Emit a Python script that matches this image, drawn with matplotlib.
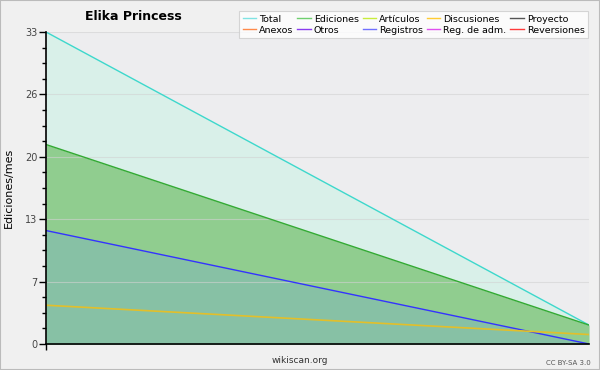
import numpy as np
import matplotlib.pyplot as plt
from matplotlib.lines import Line2D
from matplotlib.patches import Rectangle

# two months of activity
months = [0, 1]
total = [33, 2]
ediciones = [21.1, 2]
registros = [12, 0]
discusiones = [4.1, 1]

legend_names = ["Total", "Anexos", "Ediciones", "Otros", "Artículos", "Registros",
                "Discusiones", "Reg. de adm.", "Proyecto", "Reversiones"]
legend_colors = ["#7fe3e3", "#ff8a4a", "#6fcf6f", "#8a3cf0", "#c8ec3c", "#7070ff",
                 "#ffcc33", "#e050f0", "#555555", "#ff3a3a"]

yticks = [0, 6.6, 13.2, 19.8, 26.4, 33]
ytick_labels = ["0", "7", "13", "20", "26", "33"]

fig = plt.figure(figsize=(6, 3.7), dpi=100, facecolor="#f0f0f0")
ax = fig.add_axes([0.0767, 0.0703, 0.905, 0.8432])
ax.set_facecolor("#ededef")

ax.fill_between(months, 0, total, color="#d9f0e9", lw=0)
ax.fill_between(months, 0, ediciones, color="#90cd8f", lw=0)
ax.fill_between(months, 0, registros, color="#87c1a5", lw=0)
ax.plot(months, total, color="#3dd8cc", lw=1)
ax.plot(months, ediciones, color="#33aa33", lw=1)
ax.plot(months, registros, color="#3333ff", lw=1)
ax.plot(months, discusiones, color="#e2bf2a", lw=1.2)

ax.set_xlim(0, 1)
ax.set_ylim(0, 33)
ax.set_yticks(yticks)
ax.set_yticklabels(ytick_labels, fontsize=7, color="#444444")
ax.set_yticks(np.arange(0, 33.01, 1.65), minor=True)
ax.tick_params(axis="y", which="major", length=5, width=1, pad=1)
ax.tick_params(axis="y", which="minor", length=3, width=1)
ax.set_xticks([0])
ax.set_xticklabels([""])
ax.tick_params(axis="x", length=4, width=1)
ax.grid(axis="y", which="major", color="#d2d2d2", lw=0.8, alpha=0.6)
ax.spines["top"].set_visible(False)
ax.spines["right"].set_visible(False)
ax.spines["left"].set_linewidth(1.2)
ax.spines["bottom"].set_linewidth(1.2)
ax.set_ylabel("Ediciones/mes", fontsize=8, labelpad=8)

fig.text(0.142, 0.955, "Elika Princess", fontsize=9, fontweight="bold", ha="left", va="center")
fig.text(0.5, 0.025, "wikiscan.org", fontsize=6.5, ha="center", va="center", color="#333333")
fig.text(0.985, 0.02, "CC BY-SA 3.0", fontsize=5, ha="right", va="center", color="#555555")

handles = [Line2D([], [], color=c, lw=1) for c in legend_colors]
leg = fig.legend(handles, legend_names, ncol=5, loc="upper right", bbox_to_anchor=(0.988, 0.982),
                 fontsize=6.8, frameon=True, fancybox=False, handlelength=1.4, handletextpad=0.35,
                 columnspacing=0.4, labelspacing=0.2, borderpad=0.35)
leg.get_frame().set_facecolor("white")
leg.get_frame().set_edgecolor("#cccccc")
leg.get_frame().set_linewidth(0.8)

fig.patches.append(Rectangle((0, 0), 1, 1, transform=fig.transFigure, fill=False,
                             edgecolor="#bbbbbb", lw=1.5))

fig.savefig("out.png", dpi=100, facecolor=fig.get_facecolor())
